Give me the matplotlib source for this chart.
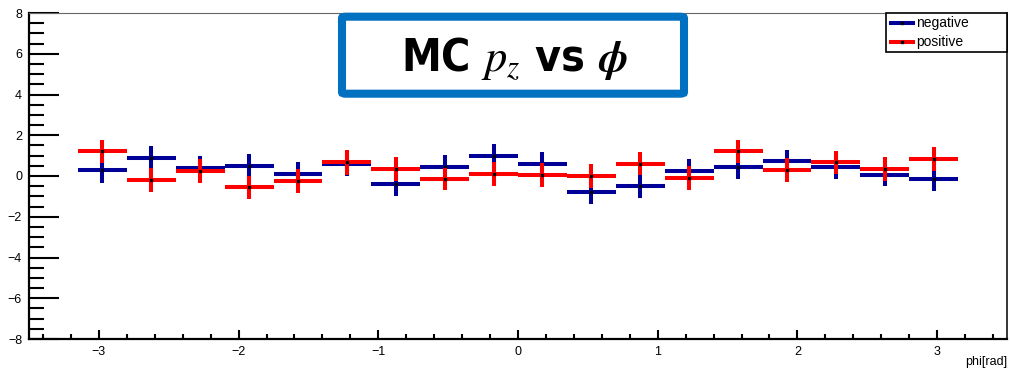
import matplotlib
matplotlib.use("Agg")
import matplotlib.pyplot as plt
import numpy as np
from matplotlib.patches import FancyBboxPatch, Rectangle
from matplotlib.lines import Line2D

plt.rcParams['font.family'] = ['Liberation Sans', 'DejaVu Sans']
plt.rcParams['mathtext.fontset'] = 'stix'

# bin centres of phi (rad), bin width 0.35
phi_centers = [-2.975, -2.625, -2.275, -1.925, -1.575, -1.225, -0.875, -0.525, -0.175,
               0.175, 0.525, 0.875, 1.225, 1.575, 1.925, 2.275, 2.625, 2.975]
bin_half = 0.175

neg_vals = [0.28, 0.88, 0.41, 0.49, 0.10, 0.59, -0.39, 0.44, 0.98,
            0.59, -0.78, -0.49, 0.24, 0.44, 0.73, 0.44, 0.05, -0.15]
neg_err = [0.60, 0.57, 0.57, 0.57, 0.57, 0.59, 0.60, 0.57, 0.57,
           0.57, 0.59, 0.60, 0.57, 0.59, 0.57, 0.59, 0.56, 0.59]
pos_vals = [1.22, -0.21, 0.24, -0.55, -0.24, 0.67, 0.33, -0.15, 0.10,
            0.05, 0.00, 0.60, -0.10, 1.22, 0.29, 0.68, 0.34, 0.83]
pos_err = [0.57, 0.59, 0.57, 0.57, 0.59, 0.60, 0.59, 0.55, 0.60,
           0.60, 0.57, 0.56, 0.59, 0.57, 0.59, 0.57, 0.57, 0.57]

blue = '#000099'
red = '#ff0000'

fig = plt.figure(figsize=(10.11, 3.70), dpi=100)
ax = fig.add_axes([29/1011, 1 - 339/370, (1007 - 29)/1011, (339 - 13)/370])

lw = 2.9
ax.errorbar(phi_centers, neg_vals, xerr=bin_half, yerr=neg_err, fmt='s', ms=1.6,
            mfc='black', mec='black', ecolor=blue, elinewidth=lw, capsize=0, zorder=3)
ax.errorbar(phi_centers, pos_vals, xerr=bin_half, yerr=pos_err, fmt='s', ms=1.6,
            mfc='black', mec='black', ecolor=red, elinewidth=lw, capsize=0, zorder=4)

ax.set_xlim(-3.5, 3.5)
ax.set_ylim(-8, 8)
ax.set_xticks([-3, -2, -1, 0, 1, 2, 3])
ax.set_xticks(np.arange(-3.4, 3.5, 0.2), minor=True)
ax.set_yticks([-8, -6, -4, -2, 0, 2, 4, 6, 8])
ax.set_yticks(np.arange(-8, 8.1, 0.5), minor=True)

ax.tick_params(axis='y', which='major', direction='in', length=21.6, width=1.5,
               labelsize=9, pad=5)
ax.tick_params(axis='y', which='minor', direction='in', length=10.8, width=1.5)
ax.tick_params(axis='x', which='major', direction='in', length=6.5, width=1.5,
               labelsize=9, pad=5)
ax.tick_params(axis='x', which='minor', direction='in', length=3.6, width=1.5)

for s in ['left', 'bottom']:
    ax.spines[s].set_linewidth(1.6)
ax.spines['top'].set_linewidth(0.8)
ax.spines['top'].set_color('#666666')
ax.spines['right'].set_linewidth(1.1)

# x axis title, bottom right like ROOT
fig.text(1007/1011, 1 - 362/370, 'phi[rad]', fontsize=9, ha='right', va='center')

# legend box
fig.patches.append(Rectangle((886/1011, 1 - 52/370), 121/1011, 39/370,
                             transform=fig.transFigure, fc='white', ec='black', lw=1.2))
leg_labels = ['negative', 'positive']
leg_colors = [blue, red]
for i, (lab, c) in enumerate(zip(leg_labels, leg_colors)):
    yy = 1 - (22.5 + 19.5*i)/370
    fig.lines.append(Line2D([891/1011, 913/1011], [yy, yy], transform=fig.transFigure,
                            color=c, lw=2.9))
    fig.lines.append(Line2D([902/1011], [yy], transform=fig.transFigure, marker='s',
                            ms=1.6, color='black', lw=0))
    fig.text(916/1011, yy, lab, fontsize=10, va='center', ha='left')

# title box
fig.patches.append(FancyBboxPatch((342/1011, 1 - 93.7/370), 342/1011, 77/370,
                                  boxstyle='round,pad=0,rounding_size=0.004',
                                  transform=fig.transFigure, fc='white', ec='#0070c0', lw=5.8))
fig.text(515/1011, 1 - 58/370, r'MC $\boldsymbol{p_z}$ vs $\boldsymbol{\phi}$',
         fontsize=32, fontweight='bold', fontstretch='condensed',
         family=['DejaVu Sans'], ha='center', va='center')

fig.savefig('out.png', dpi=100)
